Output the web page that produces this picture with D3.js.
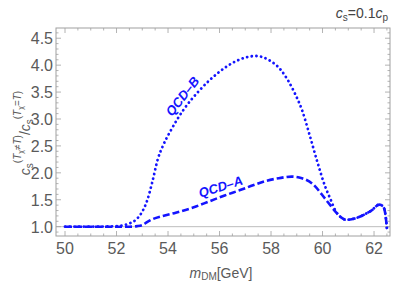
<!DOCTYPE html>
<html>
<head>
<meta charset="utf-8">
<script src="https://cdn.jsdelivr.net/npm/d3@7"></script>
<style>
  body { margin: 0; background: #fff; }
  text { font-family: "Liberation Sans", Arial, sans-serif; }
</style>
</head>
<body>
<svg id="chart" width="399" height="285"></svg>
<script>
// values
var massB = [50, 51, 52, 52.5, 52.8, 53.0, 53.2, 53.4, 53.6, 53.8, 54.1, 54.6, 55.2, 55.9, 56.5, 57.0, 57.4, 57.9, 58.4, 58.9, 59.2, 59.5, 59.8, 60.1, 60.3, 60.5, 60.7, 60.9, 61.0, 61.3, 61.6, 61.9, 62.2, 62.35, 62.45, 62.5];
var qcdB  = [1.0, 1.0, 1.01, 1.06, 1.15, 1.28, 1.5, 1.85, 2.25, 2.5, 2.78, 3.17, 3.52, 3.84, 4.04, 4.14, 4.17, 4.1, 3.9, 3.5, 3.17, 2.7, 2.2, 1.75, 1.52, 1.3, 1.18, 1.13, 1.13, 1.16, 1.22, 1.3, 1.41, 1.38, 1.2, 0.97];

var massA = [50, 51, 52, 52.5, 52.8, 53.0, 53.2, 53.4, 53.8, 54.3, 55.0, 55.6, 56.2, 56.8, 57.3, 57.8, 58.3, 58.8, 59.2, 59.6, 60.1, 60.3, 60.5, 60.7, 60.9, 61.0, 61.3, 61.6, 61.9, 62.2, 62.35, 62.45, 62.5];
var qcdA  = [1.0, 1.0, 1.0, 1.0, 1.01, 1.03, 1.09, 1.14, 1.2, 1.26, 1.36, 1.47, 1.58, 1.68, 1.77, 1.85, 1.9, 1.93, 1.9, 1.8, 1.52, 1.4, 1.28, 1.18, 1.13, 1.13, 1.16, 1.22, 1.3, 1.41, 1.38, 1.2, 0.97];

var xTicks = [50, 52, 54, 56, 58, 60, 62];
var yTicks = [1.0, 1.5, 2.0, 2.5, 3.0, 3.5, 4.0, 4.5];

var svg = d3.select("#chart");
var plotL = 56, plotR = 390, plotT = 28, plotB = 236;

var x = d3.scaleLinear().domain([49.65, 62.62]).range([plotL, plotR]);
var y = d3.scaleLinear().domain([0.827, 4.69]).range([plotB, plotT]);

var axisColor = "#a0a0a0", labelColor = "#5a5a5a";

// reference line at 1
svg.append("line")
  .attr("x1", plotL).attr("x2", plotR)
  .attr("y1", y(1)).attr("y2", y(1))
  .attr("stroke", "#bdbdbd").attr("stroke-width", 1);

// ticks, inside, on all four sides
var xMinor = d3.range(50, 62.6, 0.5);
var yMinor = d3.range(0.9, 4.65, 0.1);

function isMajor(v, list) {
  return list.some(function (t) { return Math.abs(t - v) < 1e-6; });
}

var tickG = svg.append("g").attr("stroke", axisColor).attr("stroke-width", 0.8);
xMinor.forEach(function (v) {
  var len = isMajor(v, xTicks) ? 5 : 2.5;
  tickG.append("line").attr("x1", x(v)).attr("x2", x(v)).attr("y1", plotB).attr("y2", plotB - len);
  tickG.append("line").attr("x1", x(v)).attr("x2", x(v)).attr("y1", plotT).attr("y2", plotT + len);
});
yMinor.forEach(function (v) {
  var len = isMajor(v, yTicks) ? 5 : 2.5;
  tickG.append("line").attr("y1", y(v)).attr("y2", y(v)).attr("x1", plotL).attr("x2", plotL + len);
  tickG.append("line").attr("y1", y(v)).attr("y2", y(v)).attr("x1", plotR).attr("x2", plotR - len);
});

// frame
svg.append("rect")
  .attr("x", plotL).attr("y", plotT)
  .attr("width", plotR - plotL).attr("height", plotB - plotT)
  .attr("fill", "none").attr("stroke", axisColor).attr("stroke-width", 1);

// tick labels
svg.selectAll(".xl").data(xTicks).enter().append("text")
  .attr("x", function (d) { return x(d); })
  .attr("y", plotB + 18)
  .attr("text-anchor", "middle")
  .attr("font-size", 16)
  .attr("fill", labelColor)
  .text(function (d) { return d; });

svg.selectAll(".yl").data(yTicks).enter().append("text")
  .attr("x", plotL - 3)
  .attr("y", function (d) { return y(d) + 6; })
  .attr("text-anchor", "end")
  .attr("font-size", 16)
  .attr("fill", labelColor)
  .text(function (d) { return d.toFixed(1); });

// curves
var line = d3.line()
  .x(function (d) { return x(d[0]); })
  .y(function (d) { return y(d[1]); })
  .curve(d3.curveMonotoneX);

svg.append("path")
  .datum(d3.zip(massA, qcdA))
  .attr("d", line)
  .attr("fill", "none")
  .attr("stroke", "#1414ff")
  .attr("stroke-width", 2.6)
  .attr("stroke-dasharray", "7,3");

svg.append("path")
  .datum(d3.zip(massB, qcdB))
  .attr("d", line)
  .attr("fill", "none")
  .attr("stroke", "#1414ff")
  .attr("stroke-width", 2.8)
  .attr("stroke-linecap", "round")
  .attr("stroke-dasharray", "0.1,4.6");

// curve labels
svg.append("text")
  .attr("transform", "translate(186,99) rotate(-52)")
  .attr("text-anchor", "middle")
  .attr("font-size", 13).attr("font-weight", "bold").attr("font-style", "italic")
  .attr("fill", "#1414ff")
  .text("QCD\u2013B");

svg.append("text")
  .attr("transform", "translate(222,191) rotate(-17)")
  .attr("text-anchor", "middle")
  .attr("font-size", 13).attr("font-weight", "bold").attr("font-style", "italic")
  .attr("fill", "#1414ff")
  .text("QCD\u2013A");

// title, top right
var title = svg.append("text")
  .attr("x", 388).attr("y", 18)
  .attr("text-anchor", "end")
  .attr("font-size", 14)
  .attr("fill", "#444");
title.append("tspan").attr("font-style", "italic").text("c");
title.append("tspan").attr("font-size", 10).attr("dy", 3).text("s");
title.append("tspan").attr("dy", -3).text("=0.1");
title.append("tspan").attr("font-style", "italic").text("c");
title.append("tspan").attr("font-size", 10).attr("dy", 3).text("p");

// x label
var xl = svg.append("text")
  .attr("x", 221).attr("y", 278)
  .attr("text-anchor", "middle")
  .attr("font-size", 14)
  .attr("fill", labelColor);
xl.append("tspan").attr("font-style", "italic").text("m");
xl.append("tspan").attr("font-size", 10).attr("dy", 2).text("DM");
xl.append("tspan").attr("dy", -2).text("[GeV]");

// y label, rotated
var yl = svg.append("text")
  .attr("transform", "translate(30,133) rotate(-90)")
  .attr("text-anchor", "middle")
  .attr("font-size", 14)
  .attr("fill", labelColor);
yl.append("tspan").attr("font-style", "italic").text("c");
yl.append("tspan").attr("font-size", 10).attr("dy", 3).text("s");
yl.append("tspan").attr("font-size", 10).attr("dy", -12).text("(");
yl.append("tspan").attr("font-size", 10).attr("font-style", "italic").text("T");
yl.append("tspan").attr("font-size", 7).attr("dy", 2).text("\u03c7");
yl.append("tspan").attr("font-size", 10).attr("dy", -2).text("\u2260");
yl.append("tspan").attr("font-size", 10).attr("font-style", "italic").text("T");
yl.append("tspan").attr("font-size", 10).text(")");
yl.append("tspan").attr("dy", 9).text("/");
yl.append("tspan").attr("font-style", "italic").text("c");
yl.append("tspan").attr("font-size", 10).attr("dy", 3).text("s");
yl.append("tspan").attr("font-size", 10).attr("dy", -12).text("(");
yl.append("tspan").attr("font-size", 10).attr("font-style", "italic").text("T");
yl.append("tspan").attr("font-size", 7).attr("dy", 2).text("\u03c7");
yl.append("tspan").attr("font-size", 10).attr("dy", -2).text("=");
yl.append("tspan").attr("font-size", 10).attr("font-style", "italic").text("T");
yl.append("tspan").attr("font-size", 10).text(")");
</script>
</body>
</html>
